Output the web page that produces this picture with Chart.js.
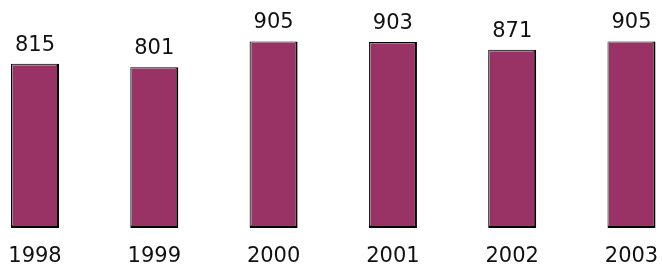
<!DOCTYPE html>
<html>
<head>
<meta charset="utf-8">
<script src="https://cdn.jsdelivr.net/npm/chart.js@4/dist/chart.umd.min.js"></script>
<style>
    html, body { margin: 0; padding: 0; background: #fff; }
    canvas { display: block; }
</style>
</head>
<body>
<canvas id="barChart" width="662" height="268"></canvas>
<script>
// Данные диаграммы
const years = ['1998', '1999', '2000', '2001', '2002', '2003'];
const values = [815, 801, 905, 903, 871, 905];

const barColor = '#993366';
const textColor = '#111';
const fontFamily = '"DejaVu Sans", Verdana, sans-serif';
const axisMin = 150;

// Серая светлая кромка слева и сверху у каждого столбца
const barBevel = {
    id: 'barBevel',
    afterDatasetsDraw(chart) {
        const ctx = chart.ctx;
        const meta = chart.getDatasetMeta(0);
        ctx.save();
        ctx.fillStyle = '#8c8c8c';
        meta.data.forEach(bar => {
            const { x, y, base, width } = bar.getProps(['x', 'y', 'base', 'width'], true);
            const left = Math.round(x - width / 2) + 1;
            const top = Math.round(y) + 1;
            ctx.fillRect(left, top, Math.round(width) - 4, 1);
            ctx.fillRect(left, top, 1, Math.round(base - y) - 4);
        });
        ctx.restore();
    }
};

// Подписи значений над столбцами
const valueLabels = {
    id: 'valueLabels',
    afterDatasetsDraw(chart) {
        const ctx = chart.ctx;
        const meta = chart.getDatasetMeta(0);
        ctx.save();
        ctx.font = '21px ' + fontFamily;
        ctx.fillStyle = textColor;
        ctx.textAlign = 'center';
        ctx.textBaseline = 'alphabetic';
        meta.data.forEach((bar, i) => {
            ctx.fillText(String(values[i]), bar.x, bar.y - 13);
        });
        ctx.restore();
    }
};

function initBarChart() {
    const ctx = document.getElementById('barChart');
    if (!ctx) return;

    new Chart(ctx.getContext('2d'), {
        type: 'bar',
        data: {
            labels: years,
            datasets: [{
                data: values,
                base: axisMin,
                backgroundColor: barColor,
                borderColor: '#000',
                borderWidth: { top: 1, left: 1, right: 2, bottom: 2 },
                borderSkipped: false,
                categoryPercentage: 1,
                barPercentage: 0.4025,
                clip: false
            }]
        },
        options: {
            responsive: false,
            animation: false,
            layout: {
                padding: { left: 35, right: 30.5, top: 18, bottom: 0 }
            },
            plugins: {
                legend: { display: false },
                tooltip: { enabled: false }
            },
            scales: {
                x: {
                    offset: false,
                    grid: { display: false, drawTicks: false },
                    border: { display: false },
                    ticks: {
                        color: textColor,
                        padding: 16,
                        maxRotation: 0,
                        autoSkip: false,
                        font: { family: fontFamily, size: 21 }
                    },
                    afterFit(scale) {
                        // фиксированная высота оси и без лишних отступов по краям
                        scale.height = 40;
                        scale.paddingLeft = 0;
                        scale.paddingRight = 0;
                    }
                },
                y: {
                    display: false,
                    min: axisMin,
                    max: 1000
                }
            }
        },
        plugins: [barBevel, valueLabels]
    });
}

if (document.readyState === 'loading') {
    document.addEventListener('DOMContentLoaded', initBarChart);
} else {
    initBarChart();
}
</script>
</body>
</html>
